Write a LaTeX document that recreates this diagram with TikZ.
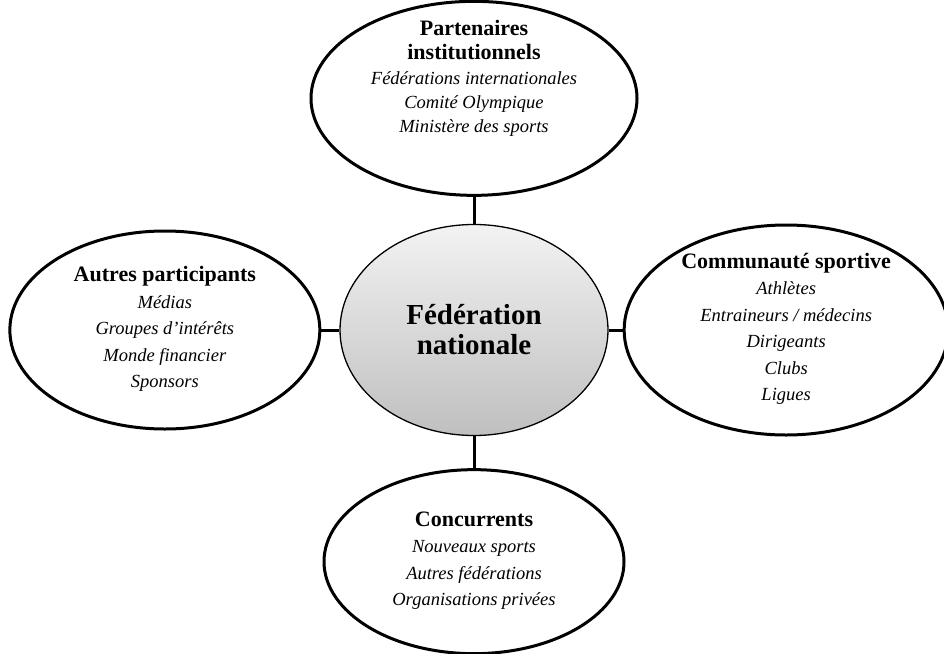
\documentclass[tikz,border=0pt]{standalone}
\usepackage{fontspec}
\setmainfont{Liberation Serif}
\usetikzlibrary{positioning,shapes.geometric}

\newcommand{\TitleFont}{\upshape\bfseries\fontsize{22}{24}\selectfont}

\tikzset{
  acteur/.style={ellipse, draw, line width=3pt, inner sep=0pt},
  liste/.style={align=center, font=\itshape\fontsize{18.5}{26.5}\selectfont},
  lien/.style={line width=3pt},
}

\begin{document}
\begin{tikzpicture}[x=1pt,y=1pt]
	\useasboundingbox (0,0) rectangle (944,-653);
	% centre
	\node[ellipse, draw, line width=1.3pt, minimum width=268pt, minimum height=211pt,
	      top color=gray!10, bottom color=gray!50, align=center,
	      font=\bfseries\fontsize{29}{30}\selectfont] (fed) at (474,-330) {F\'ed\'eration\\nationale};
	% acteurs autour
	\node[acteur, minimum width=326pt, minimum height=194pt, above=27pt of fed] (part) {};
	\node[acteur, minimum width=310pt, minimum height=198pt, left=18pt of fed] (autres) {};
	\node[acteur, minimum width=324pt, minimum height=210pt, right=14pt of fed] (comm) {};
	\node[acteur, minimum width=300pt, minimum height=184pt, below=32pt of fed] (conc) {};
	% textes
	\node[liste, font=\itshape\fontsize{18.5}{24.4}\selectfont] (parttxt) at ([yshift=20pt]part.center)
	  {{\TitleFont Partenaires}\\{\TitleFont institutionnels}\\F\'ed\'erations internationales\\Comit\'e Olympique\\Minist\`ere des sports};
	\node[liste] (autrestxt) at ([yshift=1pt]autres.center)
	  {{\TitleFont Autres participants}\\M\'edias\\Groupes d'int\'er\^ets\\Monde financier\\Sponsors};
	\node[liste] (commtxt) at ([yshift=1pt]comm.center)
	  {{\TitleFont Communaut\'e sportive}\\Athl\`etes\\Entraineurs / m\'edecins\\Dirigeants\\Clubs\\Ligues};
	\node[liste] (conctxt) at ([yshift=1pt]conc.center)
	  {{\TitleFont Concurrents}\\Nouveaux sports\\Autres f\'ed\'erations\\Organisations priv\'ees};
	% liens
	\draw[lien] (part) -- (fed);
	\draw[lien] (autres) -- (fed);
	\draw[lien] (comm) -- (fed);
	\draw[lien] (conc) -- (fed);
\end{tikzpicture}
\end{document}
